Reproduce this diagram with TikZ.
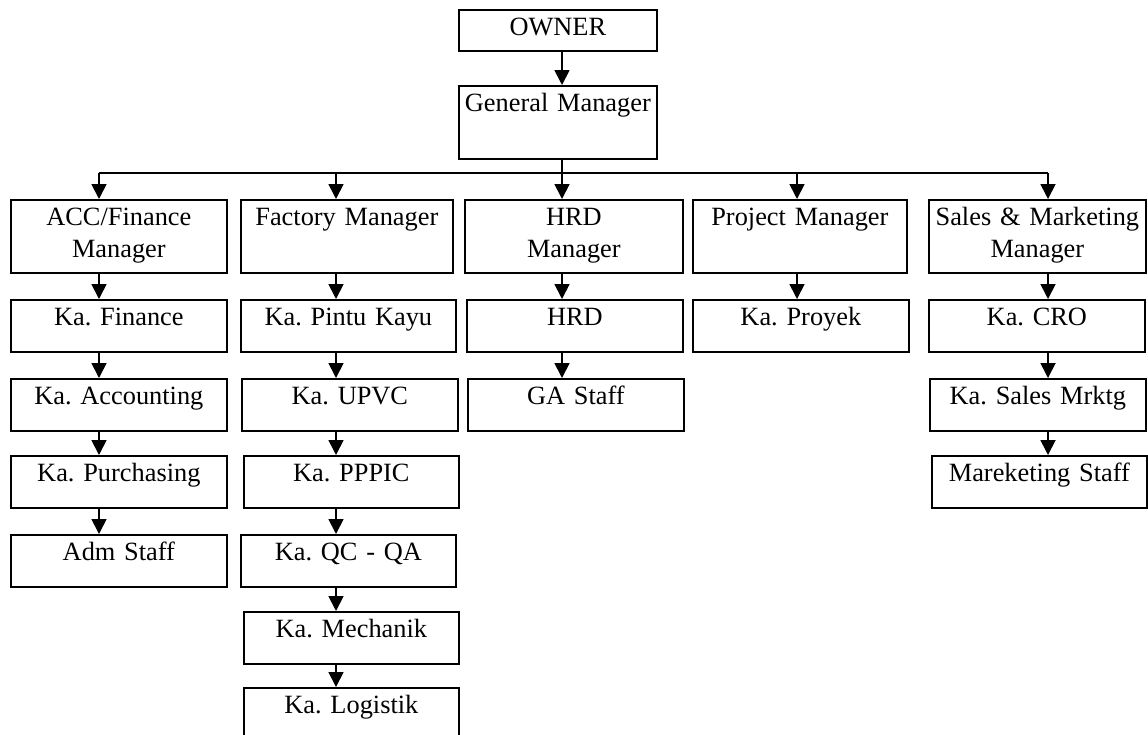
\documentclass[tikz,border=0pt]{standalone}
\usepackage{fontspec}
\setmainfont{Liberation Serif}
\usetikzlibrary{arrows.meta}

\begin{document}
\begin{tikzpicture}[x=0.02cm, y=-0.02cm,
    box/.style 2 args={draw, line width=1pt, inner sep=0pt, anchor=north west,
        align=center, text width=#1, text height=0.52cm, text depth=#2,
        font=\fontsize{15}{18.2}\selectfont\frenchspacing},
    arr/.style={-{Triangle[width=0.3cm,length=0.3cm]}, line width=1pt}]

        \useasboundingbox (0,0) rectangle (1148,734);
        \clip (0,0) rectangle (1148,734);

        % Top
        \node[box={3.96cm}{0.30cm}] (O) at (458,9) {OWNER};
        \node[box={3.96cm}{0.94cm}] (GM) at (458,85) {General Manager};

        % Managers
        \node[box={4.32cm}{0.94cm}] (ACC) at (10,199) {ACC/Finance\\Manager};
        \node[box={4.24cm}{0.94cm}] (FM) at (240,199) {Factory Manager};
        \node[box={4.36cm}{0.94cm}] (HRDM) at (464,199) {HRD\\Manager};
        \node[box={4.28cm}{0.94cm}] (PM) at (692,199) {Project Manager};
        \node[box={4.34cm}{0.94cm}] (SM) at (928,199) {Sales \& Marketing\\Manager};

        % Finance column
        \node[box={4.32cm}{0.52cm}] (KF) at (10,299) {Ka. Finance};
        \node[box={4.32cm}{0.52cm}] (KA) at (10,378) {Ka. Accounting};
        \node[box={4.32cm}{0.52cm}] (KPu) at (10,455) {Ka. Purchasing};
        \node[box={4.32cm}{0.52cm}] (AS) at (10,534) {Adm Staff};

        % Factory column
        \node[box={4.30cm}{0.52cm}] (KPK) at (240,299) {Ka. Pintu Kayu};
        \node[box={4.32cm}{0.52cm}] (KU) at (241,378) {Ka. UPVC};
        \node[box={4.30cm}{0.52cm}] (KPP) at (243,455) {Ka. PPPIC};
        \node[box={4.30cm}{0.52cm}] (KQ) at (240,534) {Ka. QC - QA};
        \node[box={4.30cm}{0.52cm}] (KM) at (243,611) {Ka. Mechanik};
        \node[box={4.30cm}{0.52cm}] (KL) at (243,687) {Ka. Logistik};

        % HRD column
        \node[box={4.32cm}{0.52cm}] (HRD) at (466,299) {HRD};
        \node[box={4.32cm}{0.52cm}] (GA) at (467,378) {GA Staff};

        % Project column
        \node[box={4.32cm}{0.52cm}] (KP) at (692,299) {Ka. Proyek};

        % Sales column
        \node[box={4.32cm}{0.52cm}] (CRO) at (928,299) {Ka. CRO};
        \node[box={4.32cm}{0.52cm}] (KSM) at (929,378) {Ka. Sales Mrktg};
        \node[box={4.30cm}{0.52cm}] (MS) at (931,455) {Mareketing Staff};

        % Bus
        \coordinate (c1) at (99,173);
        \coordinate (c2) at (336,173);
        \coordinate (c3) at (562,173);
        \coordinate (c4) at (797,173);
        \coordinate (c5) at (1048,173);

        % Arrows
        \draw[arr] (c3 |- O.south) -- (c3 |- GM.north);
        \draw[line width=1pt] (c3 |- GM.south) -- (c3);
        \draw[line width=1pt] (c1) -- (c5);
        \draw[arr] (c1) -- (c1 |- ACC.north);
        \draw[arr] (c2) -- (c2 |- FM.north);
        \draw[arr] (c3) -- (c3 |- HRDM.north);
        \draw[arr] (c4) -- (c4 |- PM.north);
        \draw[arr] (c5) -- (c5 |- SM.north);

        \draw[arr] (c1 |- ACC.south) -- (c1 |- KF.north);
        \draw[arr] (c1 |- KF.south) -- (c1 |- KA.north);
        \draw[arr] (c1 |- KA.south) -- (c1 |- KPu.north);
        \draw[arr] (c1 |- KPu.south) -- (c1 |- AS.north);

        \draw[arr] (c2 |- FM.south) -- (c2 |- KPK.north);
        \draw[arr] (c2 |- KPK.south) -- (c2 |- KU.north);
        \draw[arr] (c2 |- KU.south) -- (c2 |- KPP.north);
        \draw[arr] (c2 |- KPP.south) -- (c2 |- KQ.north);
        \draw[arr] (c2 |- KQ.south) -- (c2 |- KM.north);
        \draw[arr] (c2 |- KM.south) -- (c2 |- KL.north);

        \draw[arr] (c3 |- HRDM.south) -- (c3 |- HRD.north);
        \draw[arr] (c3 |- HRD.south) -- (c3 |- GA.north);

        \draw[arr] (c4 |- PM.south) -- (c4 |- KP.north);

        \draw[arr] (c5 |- SM.south) -- (c5 |- CRO.north);
        \draw[arr] (c5 |- CRO.south) -- (c5 |- KSM.north);
        \draw[arr] (c5 |- KSM.south) -- (c5 |- MS.north);

    \end{tikzpicture}
\end{document}
